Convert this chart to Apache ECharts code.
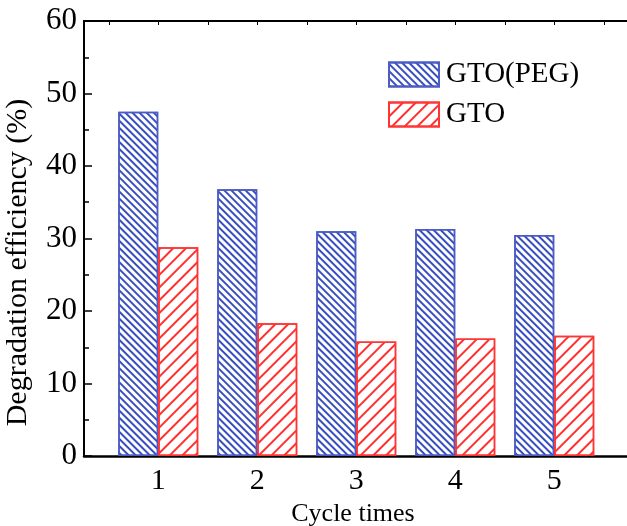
<!DOCTYPE html>
<html>
<head>
<meta charset="utf-8">
<script src="https://cdn.jsdelivr.net/npm/echarts@6/dist/echarts.min.js"></script>
<style>
    html, body {margin: 0; padding: 0; background: #fff;}
    #chart {width: 627px; height: 526px;}
</style>
</head>
<body>
<div id="chart"></div>
<script>
const cycles = [1, 2, 3, 4, 5];
const gtoPeg = [47.5, 36.8, 31.0, 31.3, 30.5];
const gto = [28.8, 18.3, 15.8, 16.2, 16.6];
const topTicks = [0.5, 1, 1.5, 2, 2.5, 3, 3.5, 4, 4.5, 5, 5.5, 6];

function pairs(vals) {
    return cycles.map(function (c, i) {
        return [c, vals[i]];
    });
}

const font = '"Liberation Serif", "Times New Roman", serif';

const myChart = echarts.init(document.getElementById('chart'));
const option = {
    animation: false,
    grid: {left: 84, top: 21, bottom: 70, right: -51, containLabel: false, outerBoundsMode: 'none'},
    legend: {
        orient: 'vertical',
        left: 388,
        top: 60,
        padding: 0,
        itemWidth: 50,
        itemHeight: 24,
        itemGap: 11,
        icon: 'rect',
        textStyle: {fontFamily: font, fontSize: 29, color: '#000', padding: [0, 0, 0, 2]},
        data: ['GTO(PEG)', 'GTO']
    },
    xAxis: [
        {
            type: 'value',
            position: 'bottom',
            min: 0.25,
            max: 6.25,
            name: 'Cycle times',
            nameLocation: 'middle',
            nameGap: 42,
            // axis runs off the right edge, so pull the title back to where it sits in the figure
            nameTextStyle: {fontFamily: font, fontSize: 26, color: '#000', padding: [0, 56, 0, 0]},
            axisLine: {onZero: false, lineStyle: {color: '#000', width: 2.5}},
            axisTick: {inside: true, length: 6, customValues: cycles, lineStyle: {color: '#000', width: 2}},
            axisLabel: {customValues: cycles, fontFamily: font, fontSize: 30, color: '#000', margin: 10},
            splitLine: {show: false}
        },
        {
            type: 'value',
            position: 'top',
            min: 0.25,
            max: 6.25,
            axisLine: {onZero: false, lineStyle: {color: '#000', width: 2}},
            axisTick: {inside: true, length: 4, customValues: topTicks, lineStyle: {color: '#000', width: 1}},
            axisLabel: {show: false},
            splitLine: {show: false}
        }
    ],
    yAxis: {
        type: 'value',
        min: 0,
        max: 60,
        interval: 10,
        name: 'Degradation efficiency (%)',
        nameLocation: 'middle',
        nameGap: 51,
        nameTextStyle: {fontFamily: font, fontSize: 30, color: '#000', padding: [0, 48, 0, 0]},
        axisLine: {show: true, onZero: false, lineStyle: {color: '#000', width: 2}},
        axisTick: {inside: true, length: 8, lineStyle: {color: '#000', width: 1.5}},
        minorTick: {show: true, splitNumber: 2, length: 5, lineStyle: {color: '#000', width: 1.5}},
        axisLabel: {fontFamily: font, fontSize: 31, color: '#000', margin: 7},
        splitLine: {show: false}
    },
    series: [
        {
            name: 'GTO(PEG)',
            type: 'bar',
            xAxisIndex: 0,
            barWidth: 40,
            barGap: '0%',
            itemStyle: {
                color: '#fff',
                borderColor: '#4b5cc4',
                borderWidth: 1.5,
                decal: {
                    symbol: 'rect',
                    symbolSize: 1,
                    color: '#3a4fbf',
                    dashArrayX: [1, 0],
                    dashArrayY: [1.2, 2.4],
                    rotation: Math.PI / 4
                }
            },
            data: pairs(gtoPeg)
        },
        {
            name: 'GTO',
            type: 'bar',
            xAxisIndex: 0,
            barWidth: 40,
            barGap: '0%',
            itemStyle: {
                color: '#fff',
                borderColor: '#ff3535',
                borderWidth: 1.5,
                decal: {
                    symbol: 'rect',
                    symbolSize: 1,
                    color: '#ff3030',
                    dashArrayX: [1, 0],
                    dashArrayY: [1.2, 6.6],
                    rotation: -Math.PI / 4
                }
            },
            data: pairs(gto)
        }
    ]
};
myChart.setOption(option);
</script>
</body>
</html>
